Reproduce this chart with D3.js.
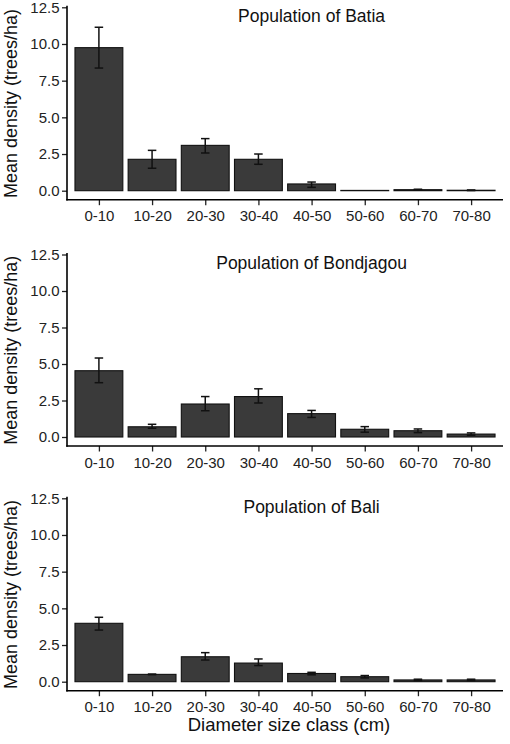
<!DOCTYPE html>
<html>
<head>
<meta charset="utf-8">
<script src="https://cdn.jsdelivr.net/npm/d3@7"></script>
<style>
  html, body { margin: 0; padding: 0; background: #fff; }
  svg { display: block; font-family: "Liberation Sans", Arial, sans-serif; }
</style>
</head>
<body>
<svg id="chart" width="510" height="744"></svg>
<script>
// ---- data ----
const categories = ["0-10", "10-20", "20-30", "30-40", "40-50", "50-60", "60-70", "70-80"];
const yTickValues = [0, 2.5, 5, 7.5, 10, 12.5];
const populations = ["Batia", "Bondjagou", "Bali"];

const batiaMean = [9.75, 2.14, 3.09, 2.14, 0.46, 0.02, 0.07, 0.03];
const batiaLow  = [8.36, 1.53, 2.57, 1.80, 0.23, 0.02, 0.04, 0.01];
const batiaHigh = [11.14, 2.75, 3.55, 2.50, 0.59, 0.02, 0.10, 0.05];

const bondjagouMean = [4.54, 0.70, 2.26, 2.77, 1.60, 0.53, 0.43, 0.20];
const bondjagouLow  = [3.72, 0.60, 1.80, 2.33, 1.34, 0.33, 0.30, 0.12];
const bondjagouHigh = [5.41, 0.87, 2.77, 3.30, 1.82, 0.71, 0.55, 0.28];

const baliMean = [3.98, 0.50, 1.70, 1.27, 0.56, 0.34, 0.12, 0.12];
const baliLow  = [3.52, 0.48, 1.48, 1.10, 0.47, 0.26, 0.08, 0.08];
const baliHigh = [4.39, 0.52, 1.98, 1.55, 0.64, 0.42, 0.17, 0.17];

const seriesMean = [batiaMean, bondjagouMean, baliMean];
const seriesLow = [batiaLow, bondjagouLow, baliLow];
const seriesHigh = [batiaHigh, bondjagouHigh, baliHigh];

// ---- layout ----
const xLeft = 67, xRight = 503;
const panelLayout = [
  { top: 7.3, zero: 190.7 },
  { top: 254.5, zero: 437 },
  { top: 498.3, zero: 681.7 }
];
const fmt = d3.format(".1f");
const svg = d3.select("#chart");

const x = d3.scalePoint().domain(categories).range([xLeft, xRight]).padding(0.6);
const step = x.step();
const barW = step * 0.9;
const capW = step * 0.16;

panelLayout.forEach((pl, pi) => {
  const y = d3.scaleLinear().domain([0, 12.5]).range([pl.zero, pl.top]);
  const axisY = pl.zero + 9;
  const g = svg.append("g");

  const rows = categories.map((c, i) => ({
    cat: c, mean: seriesMean[pi][i], low: seriesLow[pi][i], high: seriesHigh[pi][i]
  }));

  // bars
  g.selectAll("rect.bar").data(rows).join("rect")
    .attr("class", "bar")
    .attr("x", d => x(d.cat) - barW / 2)
    .attr("width", barW)
    .attr("y", d => y(d.mean))
    .attr("height", d => Math.max(0.01, y(0) - y(d.mean)))
    .attr("fill", "#3a3a3a")
    .attr("stroke", "#111")
    .attr("stroke-width", 1.1);

  // error bars
  const eb = g.selectAll("g.err").data(rows.filter(d => d.high - d.low > 0.001)).join("g")
    .attr("class", "err")
    .attr("stroke", "#111")
    .attr("stroke-width", 1.5);
  eb.append("line")
    .attr("x1", d => x(d.cat)).attr("x2", d => x(d.cat))
    .attr("y1", d => y(d.low)).attr("y2", d => y(d.high));
  eb.append("line")
    .attr("x1", d => x(d.cat) - capW / 2).attr("x2", d => x(d.cat) + capW / 2)
    .attr("y1", d => y(d.high)).attr("y2", d => y(d.high));
  eb.append("line")
    .attr("x1", d => x(d.cat) - capW / 2).attr("x2", d => x(d.cat) + capW / 2)
    .attr("y1", d => y(d.low)).attr("y2", d => y(d.low));

  // y axis
  const yAxis = g.append("g")
    .attr("transform", `translate(${xLeft},0)`)
    .call(d3.axisLeft(y).tickValues(yTickValues).tickFormat(fmt).tickSize(5).tickPadding(2.5));
  yAxis.select(".domain").remove();
  yAxis.append("line")
    .attr("x1", 0).attr("x2", 0)
    .attr("y1", y(12.5) - 1.5).attr("y2", axisY + 0.75)
    .attr("stroke", "#000").attr("stroke-width", 1.6);
  yAxis.selectAll(".tick line").attr("stroke", "#222").attr("stroke-width", 1.3);
  yAxis.selectAll(".tick text")
    .attr("font-size", 15).attr("fill", "#222")
    .attr("font-family", "'Liberation Sans', Arial, sans-serif");

  // x axis
  const xAxis = g.append("g")
    .attr("transform", `translate(0,${axisY})`)
    .call(d3.axisBottom(x).tickSize(5.5).tickPadding(5.5));
  xAxis.select(".domain").remove();
  xAxis.append("line")
    .attr("x1", xLeft - 0.75).attr("x2", xRight)
    .attr("y1", 0).attr("y2", 0)
    .attr("stroke", "#000").attr("stroke-width", 1.6);
  xAxis.selectAll(".tick line").attr("stroke", "#222").attr("stroke-width", 1.3);
  xAxis.selectAll(".tick text")
    .attr("font-size", 15).attr("fill", "#222")
    .attr("font-family", "'Liberation Sans', Arial, sans-serif");

  // panel title
  g.append("text")
    .attr("x", x("40-50"))
    .attr("y", y(11.5))
    .attr("text-anchor", "middle")
    .attr("font-size", 17.5)
    .attr("fill", "#111")
    .text("Population of " + populations[pi]);

  // y axis title
  const cy = (y(12.5) + axisY) / 2;
  g.append("text")
    .attr("transform", `translate(17,${cy}) rotate(-90)`)
    .attr("text-anchor", "middle")
    .attr("font-size", 18)
    .attr("fill", "#111")
    .text("Mean density (trees/ha)");
});

// x axis title
svg.append("text")
  .attr("x", (xLeft + xRight) / 2 + 4)
  .attr("y", 731)
  .attr("text-anchor", "middle")
  .attr("font-size", 18.5)
  .attr("fill", "#111")
  .text("Diameter size class (cm)");
</script>
</body>
</html>
